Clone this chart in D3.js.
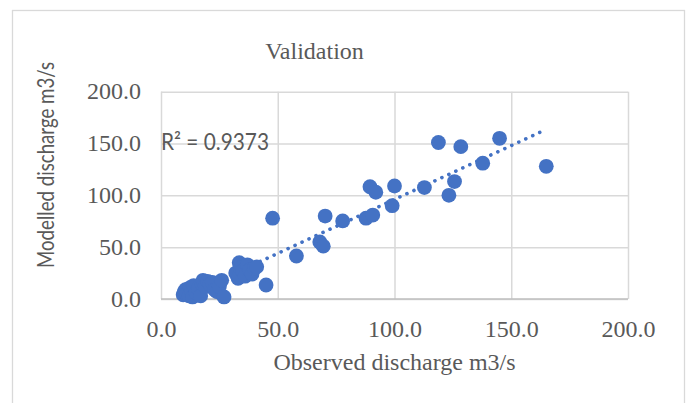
<!DOCTYPE html>
<html>
<head>
<meta charset="utf-8">
<script src="https://cdn.jsdelivr.net/npm/d3@7"></script>
<style>
  html, body { margin: 0; padding: 0; background: #ffffff; }
  svg { display: block; }
</style>
</head>
<body>
<svg id="chart" width="687" height="403"></svg>
<script>
// ---- Data ----
const chartTitle = "Validation";
const xAxisTitle = "Observed discharge m3/s";
const yAxisTitle = "Modelled discharge m3/s";
const r2Label = "R\u00B2 = 0.9373";

const xTicks = [0, 50, 100, 150, 200];
const yTicks = [0, 50, 100, 150, 200];

// Observed (x) and modelled (y) discharge, m3/s
const observed = [
  9.5, 10, 10.5, 11, 12, 12.5, 13, 13.5, 14, 15, 16, 17, 17.5, 18, 19, 20, 21, 22, 23, 24, 25, 26, 27,
  32, 33, 33.5, 34, 35, 36, 37, 38, 39, 40, 41,
  45, 47.8, 58, 68, 69.5, 70.3, 77.8, 87.8, 90.7, 89.5, 92, 99, 100, 112.8, 123.3, 125.7, 118.8, 128.4, 137.8, 145, 165
];
const modelled = [
  4, 7, 9, 5, 3, 11, 8, 2, 13, 6, 10, 3, 15, 18, 12, 17, 14, 16, 9, 7, 12, 18, 2,
  25, 20, 35, 30, 27, 22, 33, 28, 24, 30, 31,
  13.5, 78, 41.5, 55, 51, 80, 75.3, 78, 81, 108.3, 103, 90, 109, 107.5, 100, 113.3, 151, 147, 131, 155, 128
];

// ---- Layout ----
const svg = d3.select("#chart");
const plot = { left: 161, right: 628, top: 91.7, bottom: 299 };

const x = d3.scaleLinear().domain([0, 200]).range([plot.left, plot.right]);
const y = d3.scaleLinear().domain([0, 200]).range([plot.bottom, plot.top]);

const textGray = "#595959";
const gridGray = "#d9d9d9";
const pointBlue = "#4472C4";

// chart area border
svg.append("rect")
  .attr("x", 12.5).attr("y", 10.5)
  .attr("width", 672).attr("height", 420)
  .attr("fill", "#ffffff")
  .attr("stroke", gridGray).attr("stroke-width", 1.3);

// gridlines via axes
const yGrid = svg.append("g")
  .attr("transform", `translate(${plot.left},0)`)
  .call(d3.axisLeft(y).tickValues(yTicks).tickSize(-(plot.right - plot.left)).tickFormat(""));
yGrid.select(".domain").remove();
yGrid.selectAll("line").attr("stroke", gridGray).attr("stroke-width", 1.5);

const xGrid = svg.append("g")
  .attr("transform", `translate(0,${plot.bottom})`)
  .call(d3.axisBottom(x).tickValues(xTicks).tickSize(-(plot.bottom - plot.top)).tickFormat(""));
xGrid.select(".domain").remove();
xGrid.selectAll("line").attr("stroke", gridGray).attr("stroke-width", 1.5);

// bottom axis line
svg.append("line")
  .attr("x1", plot.left).attr("x2", plot.right)
  .attr("y1", plot.bottom).attr("y2", plot.bottom)
  .attr("stroke", "#bfbfbf").attr("stroke-width", 1.5);

// tick labels
const fmt = d3.format(".1f");
const yAxis = svg.append("g")
  .attr("transform", `translate(${plot.left},0)`)
  .call(d3.axisLeft(y).tickValues(yTicks).tickSize(0).tickPadding(20).tickFormat(fmt));
yAxis.select(".domain").remove();
yAxis.selectAll("text")
  .attr("font-family", "'Liberation Serif', 'Times New Roman', serif")
  .attr("font-size", 24).attr("fill", textGray)
  .attr("dy", "0.3em");

const xAxis = svg.append("g")
  .attr("transform", `translate(0,${plot.bottom})`)
  .call(d3.axisBottom(x).tickValues(xTicks).tickSize(0).tickPadding(21).tickFormat(fmt));
xAxis.select(".domain").remove();
xAxis.selectAll("text")
  .attr("font-family", "'Liberation Serif', 'Times New Roman', serif")
  .attr("font-size", 24).attr("fill", textGray)
  .attr("dy", "0.71em");

// trendline (least squares linear fit)
const n = observed.length;
const mx = d3.mean(observed), my = d3.mean(modelled);
let sxy = 0, sxx = 0;
for (let i = 0; i < n; i++) {
  sxy += (observed[i] - mx) * (modelled[i] - my);
  sxx += (observed[i] - mx) * (observed[i] - mx);
}
const slope = sxy / sxx;
const intercept = my - slope * mx;
const [xMin, xMax] = d3.extent(observed);
const line = d3.line().x(d => x(d)).y(d => y(slope * d + intercept));
svg.append("path")
  .datum([xMin, xMax])
  .attr("d", line)
  .attr("fill", "none")
  .attr("stroke", pointBlue)
  .attr("stroke-width", 3.6)
  .attr("stroke-linecap", "round")
  .attr("stroke-dasharray", "0.1 7.6");

// points
const pts = observed.map((o, i) => ({ o, m: modelled[i] }));
svg.append("g").selectAll("circle")
  .data(pts)
  .join("circle")
  .attr("cx", d => x(d.o))
  .attr("cy", d => y(d.m))
  .attr("r", 7.4)
  .attr("fill", pointBlue);

// titles
svg.append("text")
  .attr("x", 314.5).attr("y", 59)
  .attr("text-anchor", "middle")
  .attr("font-family", "'Liberation Serif', 'Times New Roman', serif")
  .attr("font-size", 24).attr("fill", textGray)
  .text(chartTitle);

svg.append("text")
  .attr("x", (plot.left + plot.right) / 2).attr("y", 370)
  .attr("text-anchor", "middle")
  .attr("font-family", "'Liberation Serif', 'Times New Roman', serif")
  .attr("font-size", 24).attr("fill", textGray)
  .text(xAxisTitle);

svg.append("text")
  .attr("transform", `translate(54,165) rotate(-90)`)
  .attr("text-anchor", "middle")
  .attr("font-family", "Lato, 'Open Sans', sans-serif")
  .attr("font-size", 24).attr("fill", textGray)
  .attr("textLength", 206).attr("lengthAdjust", "spacingAndGlyphs")
  .text(yAxisTitle);

svg.append("text")
  .attr("x", 161).attr("y", 150)
  .attr("font-family", "Lato, 'Open Sans', sans-serif")
  .attr("font-size", 23).attr("fill", textGray)
  .attr("textLength", 108).attr("lengthAdjust", "spacingAndGlyphs")
  .text(r2Label);
</script>
</body>
</html>
